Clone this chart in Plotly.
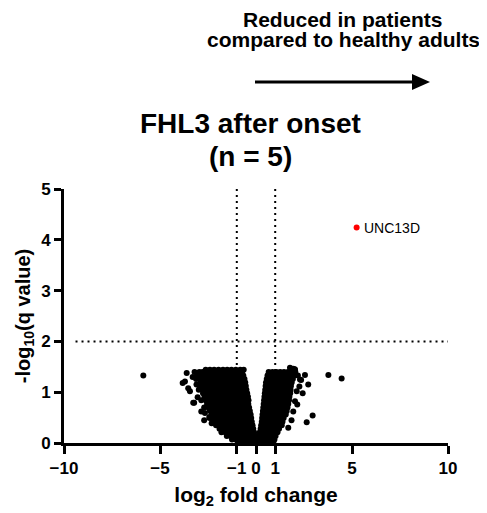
import plotly.graph_objects as go

# ---- data (log2 fold change, -log10 q) ----
left_wing_rows = [
    (1.44, [-2.62, -2.40, -2.18, -1.95, -1.72, -1.50, -1.28, -1.05, -0.82, -0.64]),
    (1.40, [-3.20, -2.95, -2.78, -2.52, -2.30, -2.07, -1.85, -1.62, -1.40, -1.17, -0.95, -0.72]),
    (1.33, [-3.05, -2.85, -2.63, -2.42, -2.20, -1.98, -1.76, -1.54, -1.32, -1.10, -0.88, -0.66]),
    (1.26, [-3.12, -2.95, -2.74, -2.52, -2.30, -2.08, -1.86, -1.64, -1.42, -1.20, -0.98, -0.76, -0.60]),
    (1.19, [-2.88, -2.66, -2.44, -2.22, -2.00, -1.78, -1.56, -1.34, -1.12, -0.90, -0.68, -0.56]),
    (1.12, [-2.92, -2.70, -2.48, -2.26, -2.04, -1.82, -1.60, -1.38, -1.16, -0.94, -0.72, -0.53]),
    (1.05, [-2.98, -2.82, -2.60, -2.38, -2.16, -1.94, -1.72, -1.50, -1.28, -1.06, -0.84, -0.64, -0.50]),
    (0.98, [-2.76, -2.55, -2.33, -2.11, -1.89, -1.67, -1.45, -1.23, -1.01, -0.79, -0.60, -0.46]),
    (0.91, [-2.68, -2.46, -2.24, -2.02, -1.80, -1.58, -1.36, -1.14, -0.92, -0.70, -0.52, -0.42]),
    (0.84, [-2.85, -2.62, -2.40, -2.18, -1.96, -1.74, -1.52, -1.30, -1.08, -0.86, -0.64, -0.46, -0.39]),
    (0.77, [-2.55, -2.33, -2.11, -1.89, -1.67, -1.45, -1.23, -1.01, -0.79, -0.58, -0.40]),
    (0.70, [-2.70, -2.48, -2.26, -2.04, -1.82, -1.60, -1.38, -1.16, -0.94, -0.72, -0.52, -0.36]),
    (0.63, [-2.40, -2.18, -1.96, -1.74, -1.52, -1.30, -1.08, -0.86, -0.64, -0.46, -0.32]),
    (0.56, [-2.30, -2.08, -1.86, -1.64, -1.42, -1.20, -0.98, -0.76, -0.55, -0.40, -0.28]),
    (0.49, [-2.42, -2.20, -1.98, -1.76, -1.54, -1.32, -1.10, -0.88, -0.66, -0.48, -0.34, -0.25]),
    (0.42, [-2.25, -2.05, -1.84, -1.62, -1.40, -1.18, -0.96, -0.74, -0.54, -0.38, -0.22]),
    (0.35, [-2.08, -1.88, -1.66, -1.44, -1.22, -1.00, -0.78, -0.58, -0.40, -0.28, -0.18]),
    (0.28, [-1.90, -1.65, -1.44, -1.22, -1.00, -0.80, -0.60, -0.42, -0.26, -0.14]),
    (0.21, [-1.80, -1.60, -1.38, -1.16, -0.96, -0.76, -0.56, -0.38, -0.22, -0.10]),
    (0.14, [-1.52, -1.32, -1.10, -0.90, -0.70, -0.50, -0.32, -0.16, -0.04, 0.10, 0.22]),
    (0.07, [-1.25, -1.05, -0.85, -0.64, -0.44, -0.26, -0.10, 0.05, 0.20, 0.36, 0.52]),
    (0.02, [-0.95, -0.75, -0.55, -0.36, -0.18, 0.00, 0.16, 0.32, 0.48, 0.62]),
]

right_wing_rows = [
    (1.45, [1.88, 2.02]),
    (1.40, [0.66, 0.86, 1.06, 1.26, 1.46, 1.66, 1.86, 2.05]),
    (1.33, [0.60, 0.80, 1.00, 1.20, 1.40, 1.60, 1.80, 2.00, 2.18]),
    (1.26, [0.56, 0.74, 0.94, 1.14, 1.34, 1.54, 1.74, 1.92]),
    (1.19, [0.52, 0.70, 0.90, 1.10, 1.30, 1.50, 1.70, 1.86]),
    (1.12, [0.50, 0.68, 0.88, 1.08, 1.28, 1.48, 1.68, 1.82]),
    (1.05, [0.48, 0.66, 0.86, 1.06, 1.26, 1.46, 1.66, 1.80]),
    (0.98, [0.46, 0.64, 0.84, 1.04, 1.24, 1.44, 1.64, 1.78]),
    (0.91, [0.44, 0.62, 0.82, 1.02, 1.22, 1.42, 1.62, 1.74]),
    (0.84, [0.42, 0.60, 0.80, 1.00, 1.20, 1.40, 1.60, 1.72]),
    (0.77, [0.40, 0.58, 0.78, 0.98, 1.18, 1.38, 1.58, 1.68]),
    (0.70, [0.38, 0.56, 0.76, 0.96, 1.16, 1.36, 1.54, 1.64]),
    (0.63, [0.36, 0.54, 0.74, 0.94, 1.14, 1.34, 1.50, 1.60]),
    (0.56, [0.34, 0.52, 0.72, 0.92, 1.12, 1.32, 1.46, 1.55]),
    (0.49, [0.32, 0.50, 0.70, 0.90, 1.10, 1.30, 1.44]),
    (0.42, [0.30, 0.48, 0.68, 0.88, 1.08, 1.28, 1.38]),
    (0.35, [0.27, 0.45, 0.65, 0.85, 1.05, 1.25, 1.34]),
    (0.28, [0.24, 0.42, 0.62, 0.82, 1.02, 1.20]),
    (0.21, [0.20, 0.38, 0.58, 0.78, 0.98, 1.12]),
    (0.14, [0.36, 0.54, 0.72, 0.90, 1.02]),
    (0.07, [0.68, 0.84, 0.96]),
    (0.02, [0.78, 0.90]),
]

sparse_x = [-5.87, -3.61, -3.82, -3.70, -3.53, -3.44, -3.27, -3.04, -3.04, -3.22, -2.66, -2.43, -2.31,
            -3.30, -3.10, -2.85, -2.70,
            3.77, 4.46, 2.55, 2.29, 2.72, 2.12, 2.43, 2.03, 2.95, 2.64, 2.03, 2.26, 1.94, 1.77,
            1.94, 1.68, 2.35, 2.15, 1.85]
sparse_y = [1.33, 1.38, 1.18, 1.21, 1.08, 1.02, 0.79, 0.90, 1.38, 0.79, 0.59, 0.51, 0.39,
            1.30, 1.15, 0.62, 0.45,
            1.34, 1.27, 1.34, 1.25, 1.15, 1.02, 0.98, 0.82, 0.54, 0.41, 1.44, 1.11, 1.46, 1.48,
            0.62, 0.30, 1.24, 0.76, 0.45]

hit_x = [5.24]
hit_y = [4.24]
hit_label = ["UNC13D"]

x_ticks = [-10, -5, -1, 0, 1, 5, 10]
y_ticks = [0, 1, 2, 3, 4, 5]
fc_cut = [-1, 1]
q_cut = 2

gx, gy = [], []
for rows in (left_wing_rows, right_wing_rows):
    for yv, xs in rows:
        gx.extend(xs)
        gy.extend([yv] * len(xs))
gx += sparse_x
gy += sparse_y

FONT = "Arial, Liberation Sans, Helvetica, sans-serif"

# page body has an 8px margin: figure placed so the plot area sits at x 64..448, y 189..443
W, H = 479, 505
OFF = 8
PL, PT, PW, PH = 64 - OFF, 189 - OFF, 384, 254


def px(xs):  # screenshot x -> paper x
    return (xs - OFF - PL) / PW


def py(ys):  # screenshot y -> paper y
    return (PT + PH - (ys - OFF)) / PH


fig = go.Figure()
fig.add_trace(go.Scatter(x=gx, y=gy, mode="markers",
                         marker=dict(color="black", size=6, line=dict(width=0)),
                         cliponaxis=False, hoverinfo="skip", showlegend=False))
fig.add_trace(go.Scatter(x=hit_x, y=hit_y, mode="markers",
                         marker=dict(color="#ff0000", size=6, line=dict(width=0)),
                         cliponaxis=False, showlegend=False))

for v in fc_cut:
    fig.add_shape(type="line", xref="x", yref="y", x0=v, x1=v, y0=0, y1=5,
                  line=dict(color="black", width=2, dash="2px,4px"), layer="below")
fig.add_shape(type="line", xref="x", yref="y", x0=-9.4, x1=10, y0=q_cut, y1=q_cut,
              line=dict(color="black", width=2, dash="2px,4px"), layer="below")

fig.add_annotation(x=hit_x[0], y=hit_y[0], text=hit_label[0], showarrow=False,
                   xanchor="left", yanchor="middle", xshift=5,
                   font=dict(family=FONT, size=14, color="black"))

# title (two lines)
fig.add_annotation(xref="paper", yref="paper", x=px(250), y=py(123),
                   text="FHL3 after onset", showarrow=False, xanchor="center", yanchor="middle",
                   font=dict(family=FONT, size=28, color="black", weight="bold"))
fig.add_annotation(xref="paper", yref="paper", x=px(250), y=py(156),
                   text="(n = 5)", showarrow=False, xanchor="center", yanchor="middle",
                   font=dict(family=FONT, size=28, color="black", weight="bold"))

# header text and arrow
fig.add_annotation(xref="paper", yref="paper", x=px(343), y=py(19.5),
                   text="Reduced in patients", showarrow=False, xanchor="center", yanchor="middle",
                   font=dict(family=FONT, size=21, color="black", weight="bold"))
fig.add_annotation(xref="paper", yref="paper", x=px(343), y=py(39.5),
                   text="compared to healthy adults", showarrow=False, xanchor="center", yanchor="middle",
                   font=dict(family=FONT, size=21, color="black", weight="bold"))
ay = py(82)
fig.add_shape(type="line", xref="paper", yref="paper", x0=px(255), x1=px(414),
              y0=ay, y1=ay, line=dict(color="black", width=3))
fig.add_shape(type="path", xref="paper", yref="paper",
              path=f"M {px(412)} {py(74)} L {px(430)} {ay} L {px(412)} {py(90)} Z",
              fillcolor="black", line=dict(color="black", width=0))

fig.update_layout(
    width=W, height=H,
    margin=dict(l=PL, r=W - PL - PW, t=PT, b=H - PT - PH, autoexpand=False),
    paper_bgcolor="white", plot_bgcolor="white",
    font=dict(family=FONT, color="black"),
    xaxis=dict(range=[-10, 10], tickvals=x_ticks,
               showline=True, linewidth=3, linecolor="black", ticks="outside", ticklen=8, tickwidth=3,
               tickcolor="black", showgrid=False, zeroline=False,
               tickfont=dict(family=FONT, size=17, color="black", weight="bold"),
               title=dict(text="log<sub>2</sub> fold change", standoff=10,
                          font=dict(family=FONT, size=21, color="black", weight="bold"))),
    yaxis=dict(range=[0, 5], tickvals=y_ticks, showline=True, linewidth=3, linecolor="black",
               ticks="outside", ticklen=7, tickwidth=3, tickcolor="black", showgrid=False, zeroline=False,
               tickfont=dict(family=FONT, size=17, color="black", weight="bold"),
               title=dict(text="-log<sub>10</sub>(q value)", standoff=6,
                          font=dict(family=FONT, size=20, color="black", weight="bold"))),
)

fig.write_html("out.html")
